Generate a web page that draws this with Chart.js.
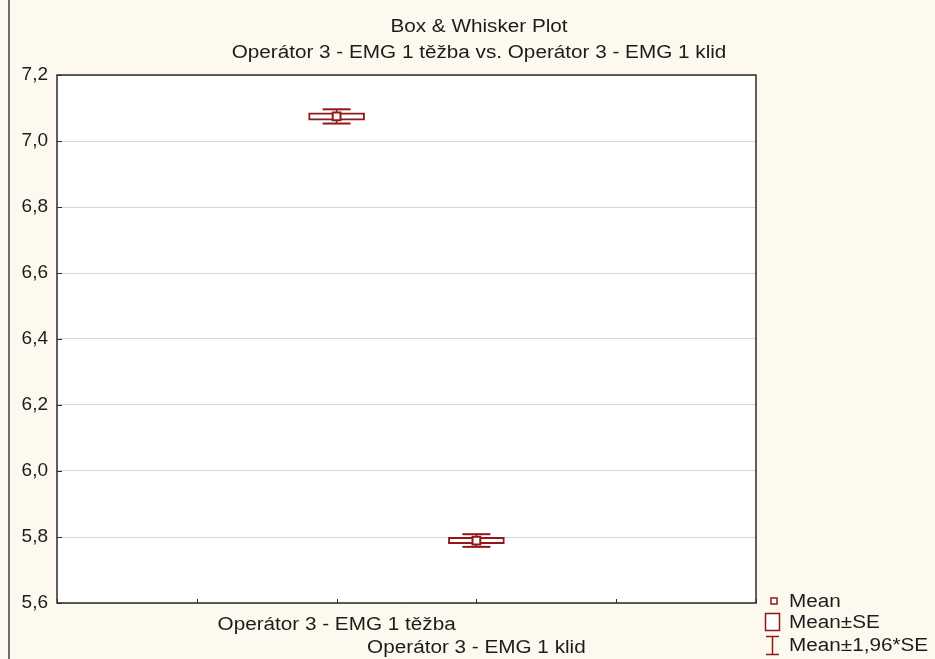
<!DOCTYPE html>
<html>
<head>
<meta charset="utf-8">
<script src="https://cdn.jsdelivr.net/npm/chart.js@4/dist/chart.umd.min.js"></script>
<style>
  html, body { margin: 0; padding: 0; background: #fef9ef; }
  #wrap { width: 935px; height: 659px; }
</style>
</head>
<body>
<div id="wrap"><canvas id="c" width="935" height="659"></canvas></div>
<script>
// Values of the two groups
const chartTitle = 'Box & Whisker Plot';
const chartSubtitle = 'Operátor 3 - EMG 1 těžba vs. Operátor 3 - EMG 1 klid';
const categories = ['Operátor 3 - EMG 1 těžba', 'Operátor 3 - EMG 1 klid'];
const categoryPositions = [2, 3];
const means = [7.0745, 5.7893];
const standardErrors = [0.0110, 0.0098];
const ciFactor = 1.96;
const yMin = 5.6, yMax = 7.2, yStep = 0.2;
const legendLabels = ['Mean', 'Mean±SE', 'Mean±1,96*SE'];

const RED = '#901818';
const TEXT = '#1c1c1c';
const FONT = '"Liberation Sans", Arial, sans-serif';
const FONT_SIZE = 18;
const STRETCH = 1.15;

// Box = mean ± SE
const boxData = categoryPositions.map((x, i) => ({
  x, y: [means[i] - standardErrors[i], means[i] + standardErrors[i]]
}));
// Whiskers = mean ± 1.96·SE, groups separated by a gap
const whiskerData = [];
categoryPositions.forEach((x, i) => {
  if (i > 0) whiskerData.push({ x: x - 0.5, y: null });
  whiskerData.push({ x, y: means[i] - ciFactor * standardErrors[i] });
  whiskerData.push({ x, y: means[i] + ciFactor * standardErrors[i] });
});
const meanData = categoryPositions.map((x, i) => ({ x, y: means[i] }));

function stretchedText(ctx, text, x, y, align) {
  ctx.save();
  ctx.translate(x, y);
  ctx.scale(STRETCH, 1);
  ctx.font = FONT_SIZE + 'px ' + FONT;
  ctx.fillStyle = TEXT;
  ctx.textAlign = align;
  ctx.textBaseline = 'middle';
  ctx.fillText(text, 0, 0);
  ctx.restore();
}

const framePlugin = {
  id: 'frame',
  beforeDraw(chart) {
    const { ctx, chartArea: a, width, height } = chart;
    ctx.save();
    ctx.fillStyle = '#fef9ef';
    ctx.fillRect(0, 0, width, height);
    ctx.fillStyle = '#ffffff';
    ctx.fillRect(a.left, a.top, a.right - a.left, a.bottom - a.top);
    // outer left rule
    ctx.strokeStyle = '#6f6f6f';
    ctx.lineWidth = 2;
    ctx.beginPath();
    ctx.moveTo(9, 0);
    ctx.lineTo(9, height);
    ctx.stroke();
    ctx.restore();
  },
  beforeDatasetsDraw(chart) {
    const { ctx, chartArea: a, scales } = chart;
    ctx.save();
    ctx.strokeStyle = '#2b2b2b';
    ctx.lineWidth = 1.5;
    ctx.strokeRect(a.left, a.top, a.right - a.left, a.bottom - a.top);
    // inward tick marks
    ctx.lineWidth = 1;
    ctx.beginPath();
    scales.x.ticks.forEach(t => {
      const px = Math.round(scales.x.getPixelForValue(t.value)) + 0.5;
      ctx.moveTo(px, a.bottom);
      ctx.lineTo(px, a.bottom - 4);
    });
    scales.y.ticks.forEach(t => {
      const py = Math.round(scales.y.getPixelForValue(t.value)) + 0.5;
      ctx.moveTo(a.left, py);
      ctx.lineTo(a.left + 5, py);
    });
    ctx.stroke();
    ctx.restore();
  },
  afterDraw(chart) {
    const { ctx, chartArea: a, scales } = chart;
    // titles
    stretchedText(ctx, chartTitle, 479, 27, 'center');
    stretchedText(ctx, chartSubtitle, 479, 53, 'center');
    // staggered category labels
    categories.forEach((c, i) => {
      const px = scales.x.getPixelForValue(categoryPositions[i]);
      stretchedText(ctx, c, px, a.bottom + 22 + i * 23, 'center');
    });
    // legend
    ctx.save();
    ctx.strokeStyle = RED;
    ctx.lineWidth = 1.5;
    ctx.fillStyle = '#ffffff';
    ctx.fillRect(771, 598, 6, 6);
    ctx.strokeRect(771, 598, 6, 6);
    ctx.fillRect(765.5, 613.5, 14, 17);
    ctx.strokeRect(765.5, 613.5, 14, 17);
    ctx.beginPath();
    ctx.moveTo(772.5, 636); ctx.lineTo(772.5, 655);
    ctx.moveTo(766, 636.5); ctx.lineTo(779, 636.5);
    ctx.moveTo(766, 654.5); ctx.lineTo(779, 654.5);
    ctx.stroke();
    ctx.restore();
    legendLabels.forEach((l, i) => {
      stretchedText(ctx, l, 789, [602, 623, 646][i], 'left');
    });
  }
};

new Chart(document.getElementById('c'), {
  type: 'bar',
  data: {
    datasets: [
      {
        type: 'scatter',
        label: legendLabels[0],
        data: meanData,
        pointStyle: 'rect',
        pointRadius: 5.5,
        pointBackgroundColor: '#ffffff',
        pointBorderColor: RED,
        pointBorderWidth: 2,
        order: 0
      },
      {
        type: 'bar',
        label: legendLabels[1],
        data: boxData,
        backgroundColor: '#ffffff',
        borderColor: RED,
        borderWidth: 2,
        borderSkipped: false,
        barThickness: 56,
        order: 1
      },
      {
        type: 'line',
        label: legendLabels[2],
        data: whiskerData,
        borderColor: RED,
        borderWidth: 1.5,
        spanGaps: false,
        pointStyle: 'line',
        pointRadius: 14,
        pointBorderColor: RED,
        pointBorderWidth: 2,
        order: 2
      }
    ]
  },
  options: {
    responsive: false,
    animation: false,
    layout: { padding: { left: 8, top: 75, right: 179, bottom: 0 } },
    plugins: { legend: { display: false }, title: { display: false }, tooltip: { enabled: false } },
    scales: {
      x: {
        type: 'linear',
        min: 0, max: 5,
        offset: false,
        ticks: { stepSize: 1, display: false },
        grid: { display: false, offset: false },
        border: { display: false },
        afterFit: s => { s.height = 56; }
      },
      y: {
        min: yMin, max: yMax,
        ticks: {
          stepSize: yStep,
          padding: 9,
          color: TEXT,
          font: { family: FONT, size: 19 },
          callback: v => v.toFixed(1).replace('.', ',')
        },
        grid: { color: '#d6d6d6', lineWidth: 1, drawTicks: false },
        border: { display: false },
        afterFit: s => { s.width = 49; }
      }
    }
  },
  plugins: [framePlugin]
});
</script>
</body>
</html>
